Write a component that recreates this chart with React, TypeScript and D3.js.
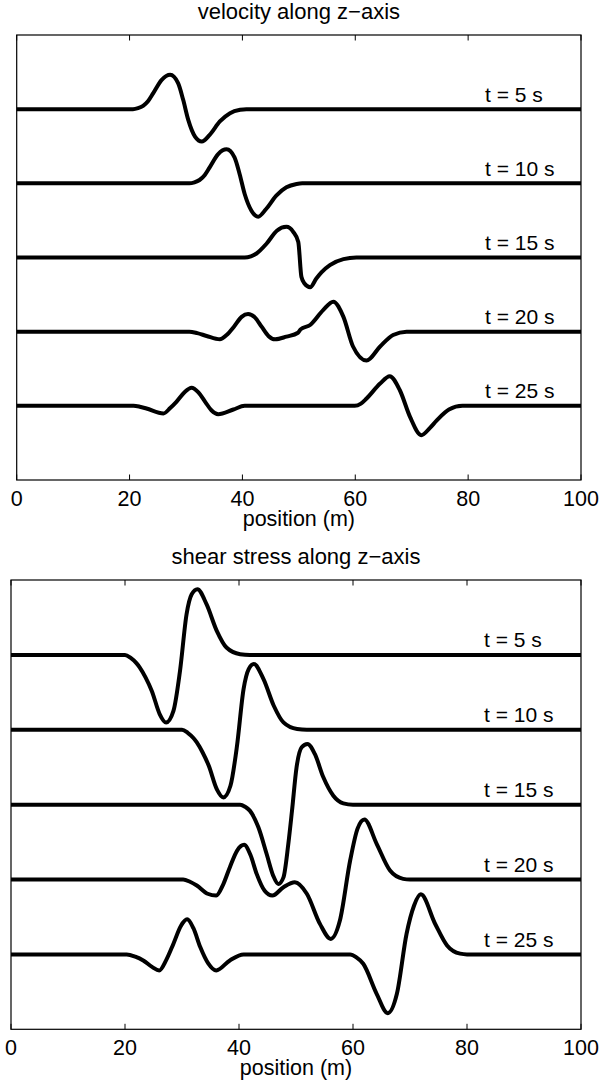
import React from 'react';
import * as d3 from 'd3';

const xTicks = [0, 20, 40, 60, 80, 100];
const times = [5, 10, 15, 20, 25];
const baselines = [5, 4, 3, 2, 1];

// velocity traces: [position, offset from baseline]
const velT5: [number, number][] = [[0,0],[20.6,0],[21.5,0.014],[22.4,0.045],[23.3,0.11],[24.2,0.216],[25.7,0.395],[27.2,0.463],[28.6,0.35],[29.5,0.126],[30.4,-0.144],[31.6,-0.369],[32.8,-0.436],[34.2,-0.346],[36.0,-0.166],[37.8,-0.054],[39.6,-0.009],[40.7,0],[100,0]];
const velT10: [number, number][] = [[0,0],[30.6,0],[31.5,0.014],[32.4,0.045],[33.3,0.11],[34.2,0.216],[35.7,0.395],[37.2,0.458],[38.6,0.35],[39.5,0.126],[40.4,-0.144],[41.6,-0.369],[42.8,-0.449],[44.2,-0.346],[46.0,-0.166],[47.8,-0.054],[49.6,-0.009],[50.6,0],[100,0]];
const velT15: [number, number][] = [[0,0],[40.4,0],[41.5,0.016],[42.5,0.054],[44.3,0.189],[46.1,0.36],[47.8,0.413],[49.0,0.346],[49.9,0.21],[50.45,-0.26],[51.0,-0.35],[52.0,-0.40],[53.1,-0.283],[54.0,-0.2],[55.5,-0.103],[57.9,-0.022],[60.2,0],[100,0]];
const velT20: [number, number][] = [[0,0],[30.6,0],[32.0,-0.02],[33.65,-0.058],[36.0,-0.103],[37.2,-0.045],[38.5,0.067],[39.86,0.2],[41.0,0.238],[42.2,0.193],[43.4,0.067],[44.6,-0.058],[45.8,-0.103],[47.8,-0.067],[49.85,-0.015],[50.3,0.031],[52.0,0.09],[54.3,0.29],[56.1,0.405],[57.9,0.2],[59.6,-0.2],[62.0,-0.39],[64.4,-0.2],[66.7,-0.045],[69.1,0],[100,0]];
const velT25: [number, number][] = [[0,0],[20.7,0],[21.8,-0.012],[23.0,-0.036],[26.0,-0.103],[27.2,-0.03],[28.3,0.054],[29.7,0.18],[31.0,0.243],[32.2,0.18],[33.4,0.054],[34.5,-0.06],[35.7,-0.112],[38.4,-0.049],[40.4,0],[59.9,0],[61.0,0.03],[62.0,0.099],[64.4,0.30],[66.1,0.40],[67.9,0.21],[69.7,-0.148],[71.7,-0.395],[73.2,-0.3],[74.4,-0.2],[76.6,-0.05],[79.0,0],[100,0]];

// shear stress traces: [position, offset from baseline]
const shT5: [number, number][] = [[0,0],[20.0,0],[21.0,-0.04],[22.0,-0.11],[22.6,-0.169],[23.6,-0.3],[24.7,-0.481],[26.1,-0.793],[27.2,-0.904],[28.5,-0.748],[29.65,-0.214],[30.8,0.543],[31.7,0.81],[32.7,0.877],[34.3,0.677],[36.1,0.321],[37.8,0.098],[40.2,0.009],[41.9,0],[100,0]];
const shT10: [number, number][] = [[0,0],[30.0,0],[31.0,-0.04],[32.0,-0.11],[32.6,-0.169],[33.6,-0.3],[34.7,-0.481],[36.1,-0.793],[37.25,-0.904],[38.5,-0.748],[39.65,-0.214],[40.8,0.543],[41.7,0.81],[42.6,0.877],[44.3,0.677],[46.1,0.321],[47.8,0.098],[50.2,0.009],[51.9,0],[100,0]];
const shT15: [number, number][] = [[0,0],[40.2,0],[41.1,-0.03],[41.9,-0.08],[43.4,-0.303],[44.85,-0.659],[46.0,-0.949],[46.9,-1.06],[47.8,-0.971],[48.65,-0.526],[49.3,-0.08],[50.1,0.5],[51.0,0.766],[52.0,0.81],[53.3,0.677],[54.8,0.365],[56.55,0.12],[58.3,0.018],[60.0,0],[100,0]];
const shT20: [number, number][] = [[0,0],[30.2,0],[31.4,-0.03],[32.6,-0.08],[34.5,-0.19],[36.0,-0.214],[37.2,-0.07],[38.4,0.165],[39.7,0.39],[40.9,0.463],[42.0,0.33],[43.1,0.076],[44.5,-0.15],[45.85,-0.214],[47.8,-0.102],[49.8,-0.036],[51.9,-0.19],[54.2,-0.592],[56.1,-0.793],[57.7,-0.548],[59.5,0.254],[60.8,0.68],[62.0,0.802],[64.15,0.477],[66.5,0.12],[68.8,0.009],[70.0,0],[100,0]];
const shT25: [number, number][] = [[0,0],[20.3,0],[21.8,-0.03],[23.2,-0.08],[24.8,-0.17],[26.0,-0.214],[27.2,-0.08],[28.5,0.143],[29.8,0.38],[30.9,0.468],[32.0,0.35],[33.2,0.098],[34.6,-0.12],[36.0,-0.214],[38.4,-0.08],[40.8,0],[59.5,0],[60.6,-0.04],[61.8,-0.125],[64.15,-0.526],[66.1,-0.784],[67.7,-0.526],[69.4,0.276],[70.7,0.65],[71.9,0.802],[74.4,0.41],[76.5,0.12],[78.8,0.01],[80.0,0],[100,0]];

const velocityTraces = [velT5, velT10, velT15, velT20, velT25];
const shearTraces = [shT5, shT10, shT15, shT20, shT25];

const FONT = '"Liberation Sans", Arial, Helvetica, sans-serif';

type PanelProps = {
  title: string;
  traces: [number, number][][];
  left: number;
  right: number;
  top: number;
  bottom: number;
};

function Panel({ title, traces, left, right, top, bottom }: PanelProps) {
  const x = d3.scaleLinear().domain([0, 100]).range([left, right]);
  const y = d3.scaleLinear().domain([0, 6]).range([bottom, top]);
  const cx = (left + right) / 2;
  return (
    <g>
      <text x={cx} y={top - 16} textAnchor="middle" fontSize={22} fontFamily={FONT} fill="#000">{title}</text>
      {traces.map((tr, i) => {
        const b = baselines[i];
        const line = d3
          .line<[number, number]>()
          .x((d) => x(d[0]))
          .y((d) => y(b + d[1]))
          .curve(d3.curveMonotoneX);
        return (
          <path key={i} d={line(tr) || ''} fill="none" stroke="#000" strokeWidth={4} strokeLinejoin="round" />
        );
      })}
      {times.map((t, i) => (
        <text key={t} x={x(83)} y={y(baselines[i] + 0.1)} fontSize={21} fontFamily={FONT} fill="#000">
          {`t = ${t} s`}
        </text>
      ))}
      <rect x={left} y={top} width={right - left} height={bottom - top} fill="none" stroke="#000" strokeWidth={1.2} />
      {xTicks.map((t) => (
        <g key={t}>
          <line x1={x(t)} x2={x(t)} y1={bottom} y2={bottom - 5.5} stroke="#000" strokeWidth={1} />
          <line x1={x(t)} x2={x(t)} y1={top} y2={top + 5.5} stroke="#000" strokeWidth={1} />
          <text x={x(t)} y={bottom + 25.5} textAnchor="middle" fontSize={21.5} fontFamily={FONT} fill="#000">{t}</text>
        </g>
      ))}
      <text x={cx} y={bottom + 46} textAnchor="middle" fontSize={21.5} fontFamily={FONT} fill="#000">position (m)</text>
    </g>
  );
}

export default function App() {
  return (
    <svg
      width={600}
      height={1086}
      viewBox="0 0 600 1086"
      style={{ position: 'absolute', left: 0, top: 0, background: '#fff' }}
    >
      <rect x={0} y={0} width={600} height={1086} fill="#fff" />
      <Panel title="velocity along z−axis" traces={velocityTraces} left={16.7} right={581} top={35} bottom={480} />
      <Panel title="shear stress along z−axis" traces={shearTraces} left={11} right={581} top={580} bottom={1029.3} />
    </svg>
  );
}
